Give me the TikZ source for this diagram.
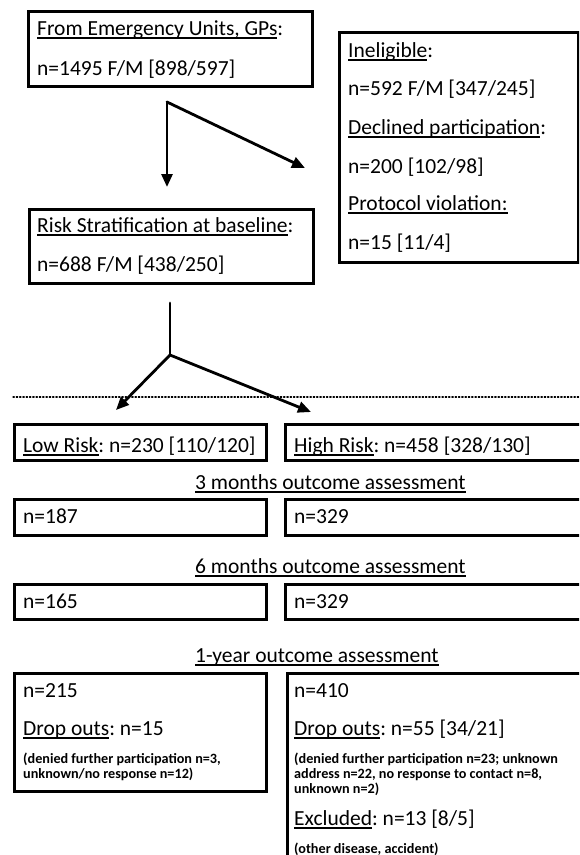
\documentclass[tikz,border=0pt]{standalone}
\usepackage{fontspec}
\setmainfont{Carlito}
\usetikzlibrary{arrows.meta}
\frenchspacing

\newcommand\undl[1]{\setbox0\hbox{#1}\rlap{\rule[-3.5pt]{\wd0}{1.4pt}}\box0}

\begin{document}
\begin{tikzpicture}[x=1pt, y=-1pt, line cap=round, >={Triangle[length=13pt,width=11pt]},
  box/.style={draw, line width=2.8pt, anchor=north west, inner sep=0pt},
  txt/.style={anchor=base west, inner sep=0pt, font=\fontsize{21.5}{25}\selectfont},
  small/.style={anchor=base west, inner sep=0pt, font=\fontsize{14.2}{15}\selectfont\bfseries},
  link/.style={line width=2.8pt}]

\useasboundingbox (0,0) rectangle (579,855);
\clip (0,0) rectangle (579,855);

% recruitment
\node[box, minimum width=284pt, minimum height=75pt] (src) at (27,10) {};
\node[txt] (srcA) at (37,35) {\undl{From Emergency Units, GPs}:};
\node[txt] (srcB) at (37,75) {n=1495 F/M [898/597]};

\node[box, minimum width=239pt, minimum height=230pt] (inel) at (338,31) {};
\node[txt] (inelA) at (348,57) {\undl{Ineligible}:};
\node[txt] (inelB) at (348,95) {n=592 F/M [347/245]};
\node[txt] (inelC) at (348,134) {\undl{Declined participation}:};
\node[txt] (inelD) at (348,173) {n=200 [102/98]};
\node[txt] (inelE) at (348,210) {\undl{Protocol violation:}};
\node[txt] (inelF) at (348,249) {n=15 [11/4]};

\node[box, minimum width=284pt, minimum height=74pt] (risk) at (28,208) {};
\node[txt] (riskA) at (37,232) {\undl{Risk Stratification at baseline}:};
\node[txt] (riskB) at (37,271) {n=688 F/M [438/250]};

\coordinate (fork1) at (167,102);
\coordinate (toRisk) at (167,187);
\coordinate (toInel) at (305,168);
\draw[link,->] (fork1) -- (toRisk);
\draw[link,->] (fork1) -- (toInel);

% stratification
\coordinate (stem) at (170,303);
\coordinate (fork2) at (170,355);
\coordinate (toLow) at (116,410);
\coordinate (toHigh) at (311,412);
\draw[link] (stem) -- (fork2);
\draw[link,->] (fork2) -- (toLow);
\draw[link,->] (fork2) -- (toHigh);

\coordinate (sepL) at (13,397);
\coordinate (sepR) at (579,397);
\draw[dotted, line width=1.3pt] (sepL) -- (sepR);

\node[box, minimum width=252pt, minimum height=36pt] (low) at (13,423) {};
\node[txt] (lowA) at (23,452) {\undl{Low Risk}: n=230 [110/120]};
\node[box, minimum width=320pt, minimum height=36pt] (high) at (284,423) {};
\node[txt] (highA) at (294,452) {\undl{High Risk}: n=458 [328/130]};

% follow-up
\node[txt] (lab3) at (195,489) {\undl{3 months outcome assessment}};
\node[box, minimum width=252pt, minimum height=36pt] (lowM3) at (13,498) {};
\node[txt] (lowM3A) at (23,523) {n=187};
\node[box, minimum width=320pt, minimum height=36pt] (highM3) at (284,498) {};
\node[txt] (highM3A) at (294,523) {n=329};

\node[txt] (lab6) at (195,573) {\undl{6 months outcome assessment}};
\node[box, minimum width=252pt, minimum height=35pt] (lowM6) at (13,583) {};
\node[txt] (lowM6A) at (23,608) {n=165};
\node[box, minimum width=320pt, minimum height=35pt] (highM6) at (284,583) {};
\node[txt] (highM6A) at (294,608) {n=329};

\node[txt] (lab12) at (195,662) {\undl{1-year outcome assessment}};
\node[box, minimum width=252pt, minimum height=118pt] (lowY1) at (13,672) {};
\node[txt] (lowY1A) at (23,697) {n=215};
\node[txt] (lowY1B) at (23,735) {\undl{Drop outs}: n=15};
\node[small] (lowY1C) at (23,763) {(denied further participation n=3,};
\node[small] (lowY1D) at (23,778) {unknown/no response n=12)};

\node[box, minimum width=320pt, minimum height=230pt] (highY1) at (286,672) {};
\node[txt] (highY1A) at (294,697) {n=410};
\node[txt] (highY1B) at (294,735) {\undl{Drop outs}: n=55 [34/21]};
\node[small] (highY1C) at (294,763) {(denied further participation n=23; unknown};
\node[small] (highY1D) at (294,778) {address n=22, no response to contact n=8,};
\node[small] (highY1E) at (294,793) {unknown n=2)};
\node[txt] (highY1F) at (294,825) {\undl{Excluded}: n=13 [8/5]};
\node[small] (highY1G) at (294,853) {(other disease, accident)};

\end{tikzpicture}
\end{document}
